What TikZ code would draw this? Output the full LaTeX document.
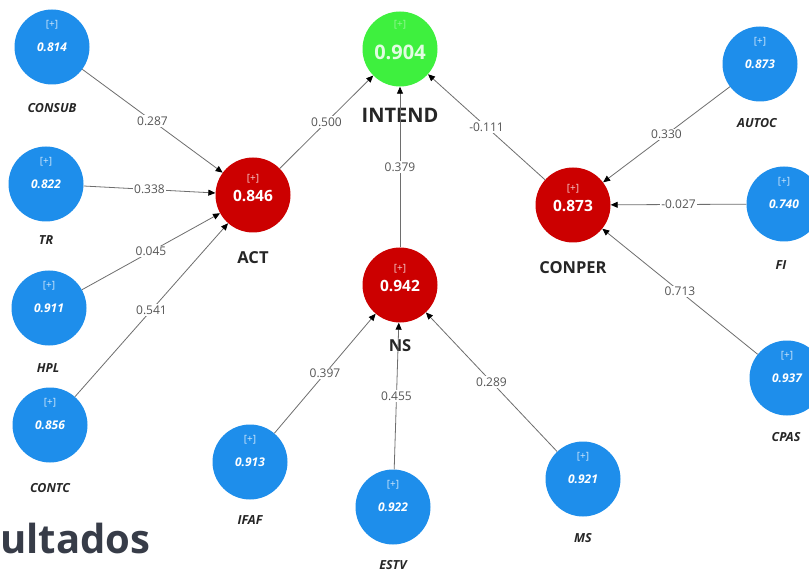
\documentclass[tikz,border=0pt]{standalone}
\usepackage{fontspec}
\setmainfont{Open Sans}
\usetikzlibrary{arrows.meta}
\definecolor{lvblue}{RGB}{30,142,235}
\definecolor{lvred}{RGB}{204,0,0}
\definecolor{lvgreen}{RGB}{62,240,62}
\definecolor{pathgray}{RGB}{110,110,110}
\definecolor{labelgray}{RGB}{85,85,85}
\definecolor{titlegray}{RGB}{55,60,72}
\begin{document}
\begin{tikzpicture}[x=1pt,y=-1pt,
  lv/.style={circle, minimum size=75pt, inner sep=0pt},
  indicator/.style={lv, fill=lvblue},
  construct/.style={lv, fill=lvred},
  targetlv/.style={lv, fill=lvgreen},
  plus/.style={text=white, text opacity=0.8, inner sep=0pt, font=\fontsize{10}{10}\selectfont},
  bval/.style={text=white, inner sep=0pt, font=\fontsize{12}{12}\selectfont\bfseries\itshape},
  rval/.style={text=white, inner sep=0pt, font=\fontsize{15.5}{15.5}\selectfont\bfseries},
  gval/.style={text=white, text opacity=0.85, inner sep=0pt, font=\fontsize{20}{20}\selectfont\bfseries},
  bname/.style={text=black!85, inner sep=0pt, font=\fontsize{12.5}{12.5}\selectfont\bfseries\itshape},
  cname/.style={text=black!85, inner sep=0pt, font=\fontsize{16.5}{16.5}\selectfont\bfseries},
  tname/.style={cname, font=\fontsize{20}{20}\selectfont\bfseries},
  pathline/.style={draw=pathgray, line width=0.8pt, -{Triangle[color=black,length=7pt,width=6pt]}},
  coef/.style={fill=white, text=labelgray, inner sep=1.5pt, font=\fontsize{12}{12}\selectfont}
]
\fill[white] (0,0) rectangle (809,572);
\useasboundingbox (0,0) rectangle (809,572);

% latent variables
\node[indicator] (consub) at (52,47) {};
\node[indicator] (tr) at (46,184) {};
\node[indicator] (hpl) at (49,308) {};
\node[indicator] (contc) at (50,425) {};
\node[indicator] (ifaf) at (250,462) {};
\node[indicator] (estv) at (393,507) {};
\node[indicator] (ms) at (583,479) {};
\node[indicator] (cpas) at (787,378) {};
\node[indicator] (fi) at (784,204) {};
\node[indicator] (autoc) at (760,64) {};
\node[construct] (act) at (253,195) {};
\node[construct] (ns) at (400,285) {};
\node[construct] (conper) at (573,205) {};
\node[targetlv] (intend) at (400,49) {};

% markers and values inside the circles
\foreach \n/\v in {consub/0.814, tr/0.822, hpl/0.911, contc/0.856, ifaf/0.913,
                   estv/0.922, ms/0.921, cpas/0.937, fi/0.740, autoc/0.873} {
  \node[plus] (\n-plus) at ([yshift=22pt]\n.center) {[+]};
  \node[bval] (\n-val) at ([yshift=0pt]\n.center) {\v};
}
\foreach \n/\v in {act/0.846, ns/0.942, conper/0.873} {
  \node[plus] (\n-plus) at ([yshift=16pt]\n.center) {[+]};
  \node[rval] (\n-val) at ([yshift=-1pt]\n.center) {\v};
}
\node[plus, text opacity=0.45] (intend-plus) at ([yshift=24pt]intend.center) {[+]};
\node[gval] (intend-val) at ([yshift=-3pt]intend.center) {0.904};

% names
\node[bname] (consub-name) at (52,108) {CONSUB};
\node[bname] (tr-name) at (46,240) {TR};
\node[bname] (hpl-name) at (48,368) {HPL};
\node[bname] (contc-name) at (50,488) {CONTC};
\node[bname] (ifaf-name) at (250,520) {IFAF};
\node[bname] (estv-name) at (393,565) {ESTV};
\node[bname] (ms-name) at (583,538) {MS};
\node[bname] (cpas-name) at (786,437) {CPAS};
\node[bname] (fi-name) at (781,265) {FI};
\node[bname] (autoc-name) at (757,123) {AUTOC};
\node[cname] (act-name) at (253,258) {ACT};
\node[cname] (ns-name) at (400,346) {NS};
\node[cname] (conper-name) at (573,268) {CONPER};
\node[tname] (intend-name) at (400,115) {INTEND};

% path coefficients
\draw[pathline] (consub) -- node[coef] (p1) {0.287} (act);
\draw[pathline] (tr) -- node[coef] (p2) {0.338} (act);
\draw[pathline] (hpl) -- node[coef] (p3) {0.045} (act);
\draw[pathline] (contc) -- node[coef] (p4) {0.541} (act);
\draw[pathline] (act) -- node[coef] (p5) {0.500} (intend);
\draw[pathline] (ns) -- node[coef] (p6) {0.379} (intend);
\draw[pathline] (conper) -- node[coef] (p7) {-0.111} (intend);
\draw[pathline] (autoc) -- node[coef] (p8) {0.330} (conper);
\draw[pathline] (fi) -- node[coef] (p9) {-0.027} (conper);
\draw[pathline] (cpas) -- node[coef] (p10) {0.713} (conper);
\draw[pathline] (ifaf) -- node[coef] (p11) {0.397} (ns);
\draw[pathline] (estv) -- node[coef] (p12) {0.455} (ns);
\draw[pathline] (ms) -- node[coef] (p13) {0.289} (ns);

% heading fragment
\node[anchor=base west, inner sep=0pt, text=titlegray,
      font=\fontsize{40}{40}\selectfont\bfseries] (heading) at (0,553) {ultados};
\end{tikzpicture}
\end{document}
